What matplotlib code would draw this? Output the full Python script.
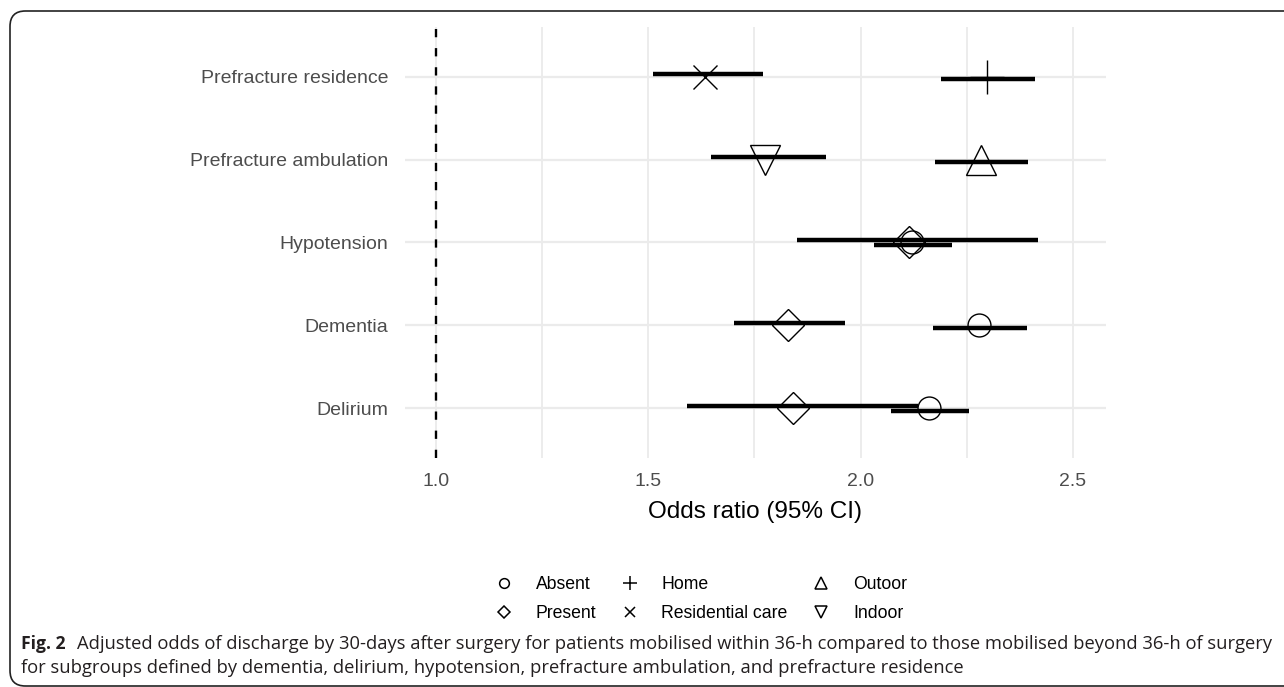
import matplotlib
matplotlib.use("Agg")
import matplotlib.pyplot as plt
from matplotlib.lines import Line2D
from matplotlib.patches import FancyBboxPatch

# subgroups, bottom to top
subgroups = ["Delirium", "Dementia", "Hypotension",
             "Prefracture ambulation", "Prefracture residence"]

# first level of each subgroup (dodged down)
level_a = ["Absent", "Absent", "Absent", "Outoor", "Home"]
or_a = [2.161, 2.279, 2.120, 2.283, 2.297]
lo_a = [2.071, 2.170, 2.032, 2.176, 2.190]
hi_a = [2.255, 2.393, 2.215, 2.394, 2.410]

# second level of each subgroup (dodged up)
level_b = ["Present", "Present", "Present", "Indoor", "Residential care"]
or_b = [1.841, 1.829, 2.114, 1.776, 1.634]
lo_b = [1.591, 1.702, 1.850, 1.647, 1.512]
hi_b = [2.136, 1.964, 2.417, 1.919, 1.769]

legend_order = ["Absent", "Present", "Home", "Residential care", "Outoor", "Indoor"]
xticks = [1.0, 1.5, 2.0, 2.5]

# marker shape and size per level
shapes = {"Absent": ("o", 16.5), "Present": ("D", 16.5),
          "Home": ("+", 24), "Residential care": ("x", 17),
          "Outoor": ("^", 21), "Indoor": ("v", 21)}
legend_sizes = {"o": 7, "D": 6.2, "+": 10, "x": 7.5, "^": 8.5, "v": 8.5}

plt.rcParams["font.family"] = ["Liberation Sans", "DejaVu Sans"]

fig = plt.figure(figsize=(12.84, 6.87), dpi=100)
ax = fig.add_axes([405 / 1284, 1 - 458 / 687, 701 / 1284, 431 / 687])

grid_col = "#EBEBEB"
ax.set_xlim(0.927, 2.578)
ax.set_ylim(-0.6, len(subgroups) - 0.4)
for v in [1.0, 1.25, 1.5, 1.75, 2.0, 2.25, 2.5]:
    ax.axvline(v, color=grid_col, lw=1.3, zorder=0)
for i in range(len(subgroups)):
    ax.axhline(i, color=grid_col, lw=1.6, zorder=0)

ax.axvline(1.0, color="black", lw=1.7, dashes=(3.5, 4.6), zorder=1)

dodge = 0.028
for i in range(len(subgroups)):
    ax.plot([lo_a[i], hi_a[i]], [i - dodge, i - dodge], color="black",
            lw=3.2, solid_capstyle="butt", zorder=2)
    ax.plot([lo_b[i], hi_b[i]], [i + dodge, i + dodge], color="black",
            lw=3.2, solid_capstyle="butt", zorder=2)
for i in range(len(subgroups)):
    for lev, val in [(level_a[i], or_a[i]), (level_b[i], or_b[i])]:
        m, ms = shapes[lev]
        ax.plot([val], [i], marker=m, markersize=ms, markerfacecolor="none",
                markeredgecolor="black", markeredgewidth=1.0, ls="none", zorder=3)

ax.set_yticks(range(len(subgroups)))
ax.set_yticklabels(subgroups)
ax.set_xticks(xticks)
ax.set_xticklabels([f"{t:.1f}" for t in xticks])
ax.tick_params(length=0, labelsize=14, labelcolor="#4D4D4D", pad=12)
ax.tick_params(axis="x", pad=11)
for s in ax.spines.values():
    s.set_visible(False)
ax.set_xlabel("Odds ratio (95% CI)", fontsize=17.5, labelpad=8)

handles = []
for lev in legend_order:
    m, ms = shapes[lev]
    handles.append(Line2D([], [], marker=m, markersize=legend_sizes[m], ls="none",
                          markerfacecolor="none", markeredgecolor="black",
                          markeredgewidth=1.1, label=lev))
fig.legend(handles=handles, ncol=3, loc="center", bbox_to_anchor=(701 / 1284, 1 - 599 / 687),
           frameon=False, fontsize=12.7, handlelength=1.0, handletextpad=1.3,
           columnspacing=1.4, labelspacing=0.65)

# caption and frame
frame = FancyBboxPatch((10 / 1284, 1 / 687), 1.05, 1 - 12 / 687,
                       boxstyle="round,pad=0,rounding_size=0.012",
                       transform=fig.transFigure, fill=False, ec="#222222", lw=1.2,
                       mutation_aspect=1284 / 687)
fig.patches.append(frame)
cap_font = ["Open Sans", "DejaVu Sans"]
fig.text(21 / 1284, 1 - 644 / 687, "Fig. 2", family=cap_font, fontweight="bold",
         fontsize=12.6, va="center", color="#231F20")
fig.text(77 / 1284, 1 - 644 / 687,
         "Adjusted odds of discharge by 30-days after surgery for patients mobilised within 36-h "
         "compared to those mobilised beyond 36-h of surgery",
         family=cap_font, fontsize=13.25, va="center", color="#231F20")
fig.text(21 / 1284, 1 - 668 / 687,
         "for subgroups defined by dementia, delirium, hypotension, prefracture ambulation, "
         "and prefracture residence",
         family=cap_font, fontsize=13.25, va="center", color="#231F20")

fig.savefig("out.png", dpi=100)
